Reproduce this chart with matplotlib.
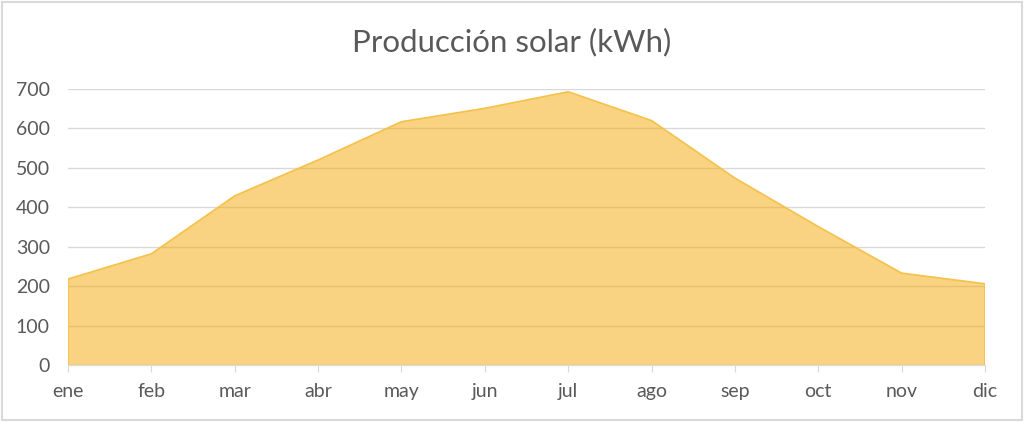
import matplotlib.pyplot as plt
from matplotlib.patches import Rectangle

meses = ['ene', 'feb', 'mar', 'abr', 'may', 'jun', 'jul', 'ago', 'sep', 'oct', 'nov', 'dic']
produccion = [218, 282, 429, 520, 617, 651, 693, 620, 474, 351, 233, 206]
yticks = [0, 100, 200, 300, 400, 500, 600, 700]

plt.rcParams['font.family'] = ['Lato', 'DejaVu Sans']
gris = '#595959'

fig = plt.figure(figsize=(10.24, 4.22), dpi=100)
ax = fig.add_axes([68 / 1024, 57 / 422, 917 / 1024, 276 / 422])

x = list(range(len(meses)))
ax.fill_between(x, produccion, 0, facecolor='#F6AD13', alpha=0.53,
                edgecolor='none', zorder=3)
ax.plot(x, produccion, color='#F4C14A', lw=1.2, zorder=4)
ax.vlines([x[0], x[-1]], 0, [produccion[0], produccion[-1]],
          color='#F4C14A', lw=1.2, zorder=4)

ax.set_xlim(0, len(meses) - 1)
ax.set_ylim(0, 700)
ax.set_xticks(x)
ax.set_xticklabels(meses)
ax.set_yticks(yticks)

ax.grid(axis='y', color='#D9D9D9', lw=1, zorder=0)
ax.set_axisbelow(True)
for s in ['top', 'right', 'left']:
    ax.spines[s].set_visible(False)
ax.spines['bottom'].set_color('#D9D9D9')
ax.spines['bottom'].set_zorder(5)

ax.tick_params(axis='y', length=0, pad=13, labelsize=14, labelcolor=gris)
ax.tick_params(axis='x', length=5, color='#D9D9D9', pad=8, labelsize=14,
               labelcolor=gris)

fig.suptitle('Producción solar (kWh)', y=1 - 42 / 422, va='center',
             fontsize=22.5, color=gris)

fig.patches.append(Rectangle((0.002, 0.004), 0.996, 0.992, transform=fig.transFigure,
                             fill=False, edgecolor='#D9D9D9', lw=1.5))

fig.savefig('out.png', dpi=100)
